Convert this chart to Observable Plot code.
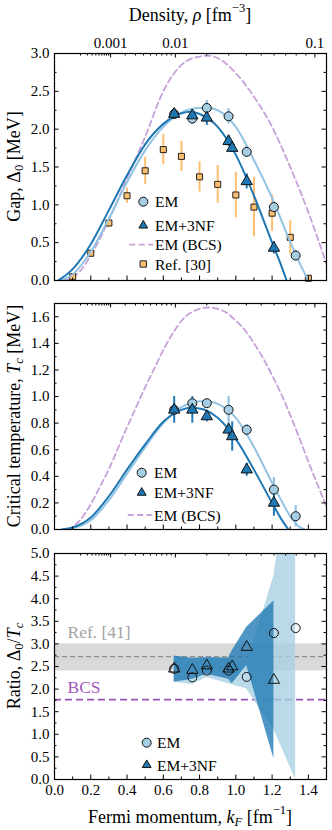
<!DOCTYPE html>
<html><head><meta charset="utf-8">
<script src="https://cdn.jsdelivr.net/npm/d3@7"></script>
<script src="https://cdn.jsdelivr.net/npm/@observablehq/plot@0.6"></script>
<style>
body{margin:0;background:#fff;}
#wrap{position:relative;width:332px;height:830px;}
.panel{position:absolute;left:0;}
.panel svg, .panel svg text{font-family:"Liberation Serif",serif !important;}
</style></head><body><div id="wrap"></div>
<script>
// ---------------- data ----------------
// fitted curves
const emGapK = [0.03, 0.1, 0.2, 0.3, 0.4, 0.5, 0.6, 0.7, 0.8, 0.85, 0.9, 1.0, 1.1, 1.2, 1.3, 1.35, 1.40];
const emGapV = [0, 0.08, 0.38, 0.82, 1.30, 1.72, 2.03, 2.22, 2.28, 2.28, 2.25, 2.03, 1.59, 1.09, 0.51, 0.24, 0];
const nfGapK = [0.02, 0.1, 0.2, 0.3, 0.4, 0.5, 0.6, 0.7, 0.75, 0.8, 0.9, 1.0, 1.1, 1.2, 1.25, 1.28];
const nfGapV = [0, 0.15, 0.48, 0.93, 1.39, 1.80, 2.07, 2.21, 2.23, 2.20, 2.03, 1.66, 1.12, 0.50, 0.20, 0];
const bcsGapK = [0.05, 0.1, 0.15, 0.2, 0.3, 0.4, 0.5, 0.6, 0.7, 0.8, 0.85, 0.9, 1.0, 1.1, 1.2, 1.3, 1.4, 1.5];
const bcsGapV = [0, 0.04, 0.15, 0.33, 0.80, 1.35, 1.90, 2.50, 2.85, 2.96, 2.97, 2.94, 2.74, 2.43, 2.03, 1.50, 0.90, 0.22];

const emTcK = [0.05, 0.1, 0.2, 0.3, 0.4, 0.5, 0.6, 0.7, 0.8, 0.85, 0.9, 1.0, 1.1, 1.2, 1.25, 1.3, 1.35, 1.38];
const emTcV = [0, 0.01, 0.07, 0.22, 0.42, 0.62, 0.80, 0.92, 0.965, 0.965, 0.945, 0.84, 0.62, 0.35, 0.22, 0.10, 0.02, 0];
const nfTcK = [0.04, 0.1, 0.2, 0.3, 0.4, 0.5, 0.6, 0.7, 0.75, 0.8, 0.9, 1.0, 1.1, 1.2, 1.25, 1.29];
const nfTcV = [0, 0.015, 0.09, 0.25, 0.45, 0.64, 0.81, 0.90, 0.915, 0.91, 0.84, 0.68, 0.45, 0.20, 0.08, 0];
const bcsTcK = [0.07, 0.1, 0.15, 0.2, 0.25, 0.3, 0.35, 0.4, 0.45, 0.5, 0.55, 0.6, 0.65, 0.7, 0.75, 0.8, 0.85, 0.9, 0.95, 1.0, 1.05, 1.1, 1.15, 1.2, 1.25, 1.3, 1.35, 1.4, 1.45, 1.5];
const bcsTcV = [0, 0.02, 0.085, 0.19, 0.32, 0.455, 0.61, 0.77, 0.92, 1.07, 1.21, 1.35, 1.47, 1.57, 1.63, 1.66, 1.67, 1.66, 1.63, 1.57, 1.50, 1.40, 1.29, 1.16, 1.02, 0.86, 0.69, 0.51, 0.34, 0.17];

// computed points
const emK = [0.66, 0.76, 0.84, 0.96, 1.06, 1.21, 1.33];
const emGap = [2.20, 2.14, 2.28, 2.17, 1.70, 0.97, 0.33];
const emGapErr = [0.07, 0.08, 0.10, 0.10, 0.07, 0.06, 0.07];
const emTc = [0.90, 0.95, 0.95, 0.90, 0.75, 0.30, 0.10];
const emTcErr = [0.03, 0.03, 0.03, 0.10, 0.04, 0.09, 0.08];
const emRatio = [2.45, 2.26, 2.41, 2.41, 2.27, 3.24, 3.35];

const nfK = [0.66, 0.76, 0.84, 0.96, 0.98, 1.06, 1.21];
const nfGap = [2.20, 2.18, 2.15, 1.84, 1.75, 1.31, 0.43];
const nfGapErr = [0.07, 0.08, 0.10, 0.07, 0.06, 0.10, 0.08];
const nfTc = [0.90, 0.90, 0.85, 0.75, 0.70, 0.45, 0.20];
const nfTcErr = [0.10, 0.10, 0.04, 0.05, 0.11, 0.05, 0.10];
const nfRatio = [2.45, 2.42, 2.52, 2.45, 2.50, 2.93, 2.20];

// Ref. [30]
const refK = [0.1, 0.2, 0.3, 0.4, 0.5, 0.6, 0.7, 0.8, 0.9, 1.0, 1.1, 1.2, 1.3, 1.4];
const refGap = [0.05, 0.36, 0.76, 1.12, 1.45, 1.73, 1.64, 1.37, 1.27, 1.13, 0.97, 0.89, 0.57, 0.03];
const refErr = [0, 0.02, 0.06, 0.10, 0.18, 0.20, 0.20, 0.20, 0.25, 0.30, 0.39, 0.24, 0.22, 0];

// ratio uncertainty bands
const emBandK = [0.66, 0.76, 0.84, 0.96, 1.06, 1.21, 1.33];
const emBandLo = [2.15, 2.10, 2.25, 2.12, 2.00, 1.10, 0];
const emBandHi = [2.72, 2.62, 2.68, 2.66, 2.55, 4.50, 8.0];
const nfBandK = [0.66, 0.76, 0.84, 0.96, 0.98, 1.06, 1.21];
const nfBandLo = [2.15, 2.22, 2.33, 2.22, 2.12, 2.52, 0.46];
const nfBandHi = [2.73, 2.68, 2.70, 2.69, 2.85, 3.37, 3.95];

const ref41 = [2.40, 2.72, 3.00]; // low, central, high
const bcsRatio = 1.765;

// ticks
const xMajor = [0, 0.2, 0.4, 0.6, 0.8, 1.0, 1.2, 1.4];
const xMinor = [0.1, 0.3, 0.5, 0.7, 0.9, 1.1, 1.3, 1.5];
const gapMajor = [0, 0.5, 1.0, 1.5, 2.0, 2.5, 3.0];
const gapMinor = [0.25, 0.75, 1.25, 1.75, 2.25, 2.75];
const tcMajor = [0, 0.2, 0.4, 0.6, 0.8, 1.0, 1.2, 1.4, 1.6];
const tcMinor = [0.1, 0.3, 0.5, 0.7, 0.9, 1.1, 1.3, 1.5, 1.7];
const ratioMajor = [0, 0.5, 1.0, 1.5, 2.0, 2.5, 3.0, 3.5, 4.0, 4.5, 5.0];
const ratioMinor = [0.25, 0.75, 1.25, 1.75, 2.25, 2.75, 3.25, 3.75, 4.25, 4.75];
const densityMajor = [0.001, 0.01, 0.1];
const densityLabels = ["0.001", "0.01", "0.1"];
const densityDecades = [1e-4, 1e-3, 1e-2, 1e-1];
const mantissas = [1, 2, 3, 4, 5, 6, 7, 8, 9];

// ---------------- styling ----------------
const FONT = "Liberation Serif";
const C_EM = "#a6cee3", C_EM_LINE = "#92c3e3", C_NF = "#1f78b4";
const C_BCS = "#c6a2d8", C_REF = "#fdbf6f", C_REF_BAR = "#fdbf6f";
const W = 332, ML = 54, MR = 6, FW = W - ML - MR;
const TMAJ = 4.5, TMIN = 2.5;
const TICKFS = 15;

const kfOfRho = r => Math.cbrt(3 * Math.PI * Math.PI * r);
const densityMinor = [];
for (const d of densityDecades) for (const m of mantissas) {
  const v = +(m * d).toPrecision(3);
  if (densityMajor.includes(v)) continue;
  if (kfOfRho(v) <= 1.5) densityMinor.push(v);
}
const zip = (k, v, e) => k.map((x, i) => ({k: x, v: v[i], e: e ? e[i] : 0}));

function frameTicks(H, yMajor, yMinor) {
  const s = {stroke: "black", strokeWidth: 1};
  return [
    Plot.ruleY(yMajor, {y: d => d, insetRight: FW - TMAJ, ...s}),
    Plot.ruleY(yMinor, {y: d => d, insetRight: FW - TMIN, ...s}),
    Plot.ruleY(yMajor, {y: d => d, insetLeft: FW - TMAJ, ...s}),
    Plot.ruleY(yMinor, {y: d => d, insetLeft: FW - TMIN, ...s}),
    Plot.ruleX(xMajor, {x: d => d, insetTop: H - TMAJ, ...s}),
    Plot.ruleX(xMinor, {x: d => d, insetTop: H - TMIN, ...s}),
    Plot.ruleX(densityMajor.map(kfOfRho), {x: d => d, insetBottom: H - TMAJ, ...s}),
    Plot.ruleX(densityMinor.map(kfOfRho), {x: d => d, insetBottom: H - TMIN, ...s}),
  ];
}

function makePanel({top, height, marginTop, marginBottom, yDomain, yMajor, yMinor, marks, topLabels, bottomLabels}) {
  const H = height - marginTop - marginBottom;
  const all = [
    ...marks,
    ...frameTicks(H, yMajor, yMinor),
    Plot.frame({stroke: "black", strokeWidth: 1.2}),
    Plot.axisY({ticks: yMajor, tickSize: 0, tickPadding: 5, tickFormat: d => d.toFixed(1), fontSize: TICKFS, fontFamily: FONT, label: null}),
  ];
  if (topLabels) all.push(Plot.axisX({anchor: "top", ticks: densityMajor.map(kfOfRho), tickSize: 0, tickPadding: 6,
    tickFormat: (d, i) => densityLabels[i], fontSize: TICKFS, fontFamily: FONT, label: null}));
  if (bottomLabels) all.push(Plot.axisX({anchor: "bottom", ticks: xMajor, tickSize: 0, tickPadding: 5,
    tickFormat: d => d.toFixed(1), fontSize: TICKFS, fontFamily: FONT, label: null}));
  const svg = Plot.plot({
    width: W, height, marginLeft: ML, marginRight: MR, marginTop, marginBottom,
    x: {domain: [0, 1.5], axis: null},
    y: {domain: yDomain, axis: null},
    style: {fontFamily: FONT, fontSize: TICKFS + "px", background: "transparent", overflow: "visible"},
    marks: all
  });
  const div = document.createElement("div");
  div.className = "panel";
  div.style.top = top + "px";
  div.appendChild(svg);
  document.getElementById("wrap").appendChild(div);
  return svg;
}

// rich text with italic / sub / sup parts
function richText(sel, parts, size) {
  let cur = 0;
  for (const p of parts) {
    const target = p.sub ? size * 0.28 : p.sup ? -size * 0.38 : 0;
    const ts = sel.append("tspan").text(p.t);
    if (target !== cur) ts.attr("dy", target - cur);
    cur = target;
    if (p.i) ts.attr("font-style", "italic");
    if (p.sub || p.sup) ts.attr("font-size", size * 0.7);
  }
}
function yLabel(svg, parts, cx, cy, size) {
  const t = d3.select(svg).append("text")
    .attr("transform", `translate(${cx},${cy}) rotate(-90)`)
    .attr("text-anchor", "middle").attr("dominant-baseline", "central")
    .attr("font-family", FONT).attr("font-size", size).attr("fill", "black");
  richText(t, parts, size);
}
function hText(svg, parts, cx, cy, size) {
  const t = d3.select(svg).append("text")
    .attr("x", cx).attr("y", cy)
    .attr("text-anchor", "middle").attr("dominant-baseline", "central")
    .attr("font-family", FONT).attr("font-size", size).attr("fill", "black");
  richText(t, parts, size);
}
const triSym = d3.symbolTriangle2 || d3.symbolTriangle;
function legend(svg, items, mx, tx) {
  const g = d3.select(svg).append("g");
  for (const it of items) {
    if (it.type === "circle") {
      g.append("circle").attr("cx", mx).attr("cy", it.y).attr("r", 4.5)
        .attr("fill", C_EM).attr("stroke", "#111").attr("stroke-width", 1);
    } else if (it.type === "tri") {
      g.append("path").attr("transform", `translate(${mx},${it.y})`)
        .attr("d", d3.symbol(triSym, Math.PI * 4.2 * 4.2)())
        .attr("fill", C_NF).attr("stroke", "#111").attr("stroke-width", 1);
    } else if (it.type === "square") {
      g.append("path").attr("transform", `translate(${mx},${it.y})`)
        .attr("d", d3.symbol(d3.symbolSquare, 40)())
        .attr("fill", C_REF).attr("stroke", "#222").attr("stroke-width", 1);
    } else if (it.type === "dash") {
      g.append("line").attr("x1", mx - 14).attr("x2", mx + 10).attr("y1", it.y).attr("y2", it.y)
        .attr("stroke", C_BCS).attr("stroke-width", 1.8).attr("stroke-dasharray", "6,3.5");
    }
    g.append("text").attr("x", tx).attr("y", it.y).attr("dominant-baseline", "central")
      .attr("text-anchor", "start")
      .attr("font-family", FONT).attr("font-size", 15.5).attr("fill", "black").text(it.label);
  }
}

const lineOpts = {x: "k", y: "v", curve: "monotone-x", clip: true};
const errBar = (data, color, w) => Plot.ruleX(data, {x: "k", y1: d => d.v - d.e, y2: d => d.v + d.e, stroke: color, strokeWidth: w});

// ---------------- panel 1: gap ----------------
const p1 = makePanel({
  top: 0, height: 283, marginTop: 53, marginBottom: 3,
  yDomain: [0, 3], yMajor: gapMajor, yMinor: gapMinor, topLabels: true, bottomLabels: false,
  marks: [
    Plot.line(zip(bcsGapK, bcsGapV), {...lineOpts, stroke: C_BCS, strokeWidth: 1.8, strokeDasharray: "6,3.5"}),
    errBar(zip(refK, refGap, refErr), C_REF_BAR, 2),
    Plot.dot(zip(refK, refGap), {x: "k", y: "v", symbol: "square", r: 3.4, fill: C_REF, stroke: "#222", strokeWidth: 1}),
    Plot.line(zip(emGapK, emGapV), {...lineOpts, stroke: C_EM_LINE, strokeWidth: 2}),
    Plot.line(zip(nfGapK, nfGapV), {...lineOpts, stroke: C_NF, strokeWidth: 2}),
    errBar(zip(emK, emGap, emGapErr), C_EM_LINE, 2.2),
    errBar(zip(nfK, nfGap, nfGapErr), C_NF, 2),
    Plot.dot(zip(emK, emGap), {x: "k", y: "v", r: 4.5, fill: C_EM, stroke: "#111", strokeWidth: 1}),
    Plot.dot(zip(nfK, nfGap), {x: "k", y: "v", symbol: "triangle", r: 4.2, fill: C_NF, stroke: "#111", strokeWidth: 1}),
  ]
});
yLabel(p1, [{t: "Gap, Δ"}, {t: "0", sub: true}, {t: " [MeV]"}], 14, 166.5, 18);
hText(p1, [{t: "Density, "}, {t: "ρ", i: true}, {t: " [fm"}, {t: "−3", sup: true}, {t: "]"}], 190, 15, 18);
legend(p1, [
  {type: "circle", y: 201.7, label: "EM"},
  {type: "tri", y: 225.5, label: "EM+3NF"},
  {type: "dash", y: 244.7, label: "EM (BCS)"},
  {type: "square", y: 264, label: "Ref. [30]"},
], 143.3, 155);

// ---------------- panel 2: Tc ----------------
const p2 = makePanel({
  top: 283, height: 249, marginTop: 20, marginBottom: 3,
  yDomain: [0, 1.7], yMajor: tcMajor, yMinor: tcMinor, topLabels: false, bottomLabels: false,
  marks: [
    Plot.line(zip(bcsTcK, bcsTcV), {...lineOpts, stroke: C_BCS, strokeWidth: 1.8, strokeDasharray: "6,3.5"}),
    Plot.line(zip(emTcK, emTcV), {...lineOpts, stroke: C_EM_LINE, strokeWidth: 2}),
    Plot.line(zip(nfTcK, nfTcV), {...lineOpts, stroke: C_NF, strokeWidth: 2}),
    errBar(zip(emK, emTc, emTcErr), C_EM_LINE, 2.2),
    errBar(zip(nfK, nfTc, nfTcErr), C_NF, 2),
    Plot.dot(zip(emK, emTc), {x: "k", y: "v", r: 4.5, fill: C_EM, stroke: "#111", strokeWidth: 1}),
    Plot.dot(zip(nfK, nfTc), {x: "k", y: "v", symbol: "triangle", r: 4.2, fill: C_NF, stroke: "#111", strokeWidth: 1}),
  ]
});
yLabel(p2, [{t: "Critical temperature, "}, {t: "T", i: true}, {t: "c", i: true, sub: true}, {t: " [MeV]"}], 14, 133, 18);
legend(p2, [
  {type: "circle", y: 189.7, label: "EM"},
  {type: "tri", y: 209.7, label: "EM+3NF"},
  {type: "dash", y: 232, label: "EM (BCS)"},
], 141.7, 154);

// ---------------- panel 3: ratio ----------------
const band = (k, lo, hi) => k.map((x, i) => ({k: x, lo: lo[i], hi: hi[i]}));
const p3 = makePanel({
  top: 532, height: 298, marginTop: 21, marginBottom: 51,
  yDomain: [0, 5], yMajor: ratioMajor, yMinor: ratioMinor, topLabels: false, bottomLabels: true,
  marks: [
    Plot.rect([ref41], {y1: d => d[0], y2: d => d[2], fill: "#d9d9d9"}),
    Plot.ruleY([ref41[1]], {y: d => d, stroke: "#8f8f8f", strokeWidth: 1.3, strokeDasharray: "5,3"}),
    Plot.text([ref41[2]], {y: d => d, text: () => "Ref. [41]", frameAnchor: "left", textAnchor: "start", dx: 13, dy: -12, fill: "#a3a3a3", fontSize: 17.5, fontFamily: FONT}),
    Plot.ruleY([bcsRatio], {y: d => d, stroke: "#9e52b6", strokeWidth: 1.8, strokeDasharray: "7,4"}),
    Plot.text([bcsRatio], {y: d => d, text: () => "BCS", frameAnchor: "left", textAnchor: "start", dx: 13, dy: -12, fill: "#a257bb", fontSize: 17.5, fontFamily: FONT}),
    Plot.areaY(band(emBandK, emBandLo, emBandHi), {x: "k", y1: "lo", y2: "hi", fill: "#a6cee3", fillOpacity: 0.78, clip: true}),
    Plot.areaY(band(nfBandK, nfBandLo, nfBandHi), {x: "k", y1: "lo", y2: "hi", fill: "#1f78b4", fillOpacity: 0.78, clip: true}),
    Plot.dot(zip(emK, emRatio), {x: "k", y: "v", r: 4.5, fill: "none", stroke: "#111", strokeWidth: 1}),
    Plot.dot(zip(nfK, nfRatio), {x: "k", y: "v", symbol: "triangle", r: 4.2, fill: "none", stroke: "#111", strokeWidth: 1}),
  ]
});
yLabel(p3, [{t: "Ratio, Δ"}, {t: "0", sub: true}, {t: "/"}, {t: "T", i: true}, {t: "c", i: true, sub: true}], 14, 134, 18);
hText(p3, [{t: "Fermi momentum, "}, {t: "k", i: true}, {t: "F", i: true, sub: true}, {t: " [fm"}, {t: "−1", sup: true}, {t: "]"}], 190, 284.5, 18);
legend(p3, [
  {type: "circle", y: 210.7, label: "EM"},
  {type: "tri", y: 233, label: "EM+3NF"},
], 146.7, 157);
</script></body></html>
